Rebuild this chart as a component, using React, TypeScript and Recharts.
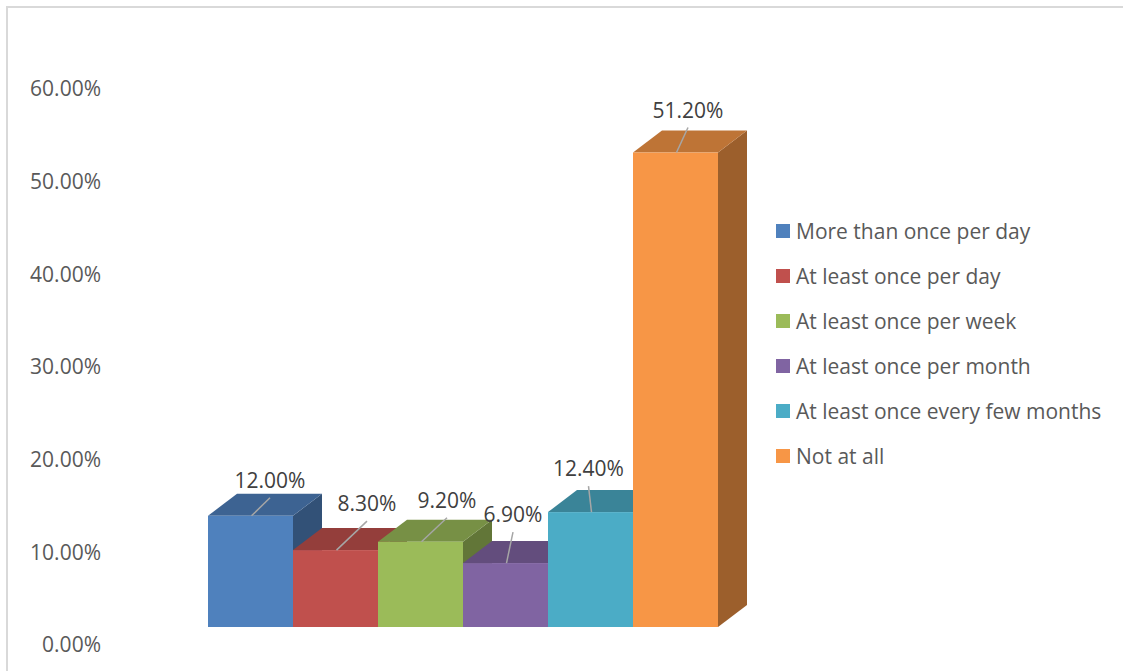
import React from 'react';
import { BarChart, Bar, XAxis, YAxis, Legend } from 'recharts';

const categories = ['Frequency'];
const seriesNames = [
  'More than once per day',
  'At least once per day',
  'At least once per week',
  'At least once per month',
  'At least once every few months',
  'Not at all',
];
const seriesValues = [12.0, 8.3, 9.2, 6.9, 12.4, 51.2];
const yTicks = [0, 10, 20, 30, 40, 50, 60];

const seriesColors = ['#4F81BD', '#C0504D', '#9BBB59', '#8064A2', '#4BACC6', '#F79646'];
// label nudges (style): offset of the data label from the front-top centre of each box
const labelNudge: [number, number][] = [
  [19.5, -36],
  [31.5, -47],
  [26.5, -42],
  [7.5, -49],
  [-2, -44],
  [12.5, -43],
];

const data = categories.map((c) => {
  const row: Record<string, any> = { name: c };
  seriesValues.forEach((v, i) => {
    row['s' + i] = v;
  });
  return row;
});

const DX = 29;
const DY = 22;
const LIFT = 18;
const FONT = "'Open Sans', sans-serif";

function shade(hex: string, f: number) {
  const n = parseInt(hex.slice(1), 16);
  const r = Math.round(((n >> 16) & 255) * f);
  const g = Math.round(((n >> 8) & 255) * f);
  const b = Math.round((n & 255) * f);
  return `rgb(${r},${g},${b})`;
}

const makeShape = (i: number) => (props: any) => {
  const { x, y, width, height } = props;
  const fill = seriesColors[i];
  const top = y - LIFT;
  const bottom = y + height - LIFT;
  const right = x + width;
  const cx = x + width / 2;
  const lx = cx + labelNudge[i][0];
  const ly = top + labelNudge[i][1];
  return (
    <g>
      <polygon
        points={`${right},${top} ${right + DX},${top - DY} ${right + DX},${bottom - DY} ${right},${bottom}`}
        fill={shade(fill, 0.63)}
      />
      <polygon
        points={`${x},${top} ${right},${top} ${right + DX},${top - DY} ${x + DX},${top - DY}`}
        fill={shade(fill, 0.77)}
      />
      <rect x={x} y={top} width={width} height={height} fill={fill} />
      <line x1={cx + 1} y1={top} x2={lx} y2={ly + 18} stroke="#a6a6a6" strokeWidth={1.5} />
      <text
        x={lx}
        y={ly}
        textAnchor="middle"
        dominantBaseline="central"
        fontFamily={FONT}
        fontSize={21}
        fill="#404040"
      >
        {seriesValues[i].toFixed(2) + '%'}
      </text>
    </g>
  );
};

const renderLegend = () => (
  <div style={{ width: 347, fontFamily: FONT, fontSize: 21, color: '#595959' }}>
    {seriesNames.map((n, i) => (
      <div key={n} style={{ height: 45, display: 'flex', alignItems: 'center', whiteSpace: 'nowrap' }}>
        <span
          style={{
            display: 'inline-block',
            flex: '0 0 14px',
            width: 14,
            height: 14,
            background: seriesColors[i],
            marginRight: 6,
          }}
        />
        <span>{n}</span>
      </div>
    ))}
  </div>
);

export default function App() {
  return (
    <div style={{ position: 'absolute', left: 0, top: 0, width: 1123, height: 671, overflow: 'hidden', background: '#fff' }}>
      <div
        style={{
          position: 'absolute',
          left: 6,
          top: 6,
          width: 1300,
          height: 900,
          borderTop: '2px solid #d9d9d9',
          borderLeft: '2px solid #d9d9d9',
        }}
      />
      <div style={{ position: 'absolute', left: 0, top: 0 }}>
        <BarChart
          width={1123}
          height={671}
          data={data}
          margin={{ top: 89, right: 308, bottom: 26, left: 0 }}
          barCategoryGap={98}
          barGap={0}
        >
          <XAxis dataKey="name" hide />
          <YAxis
            domain={[0, 60]}
            ticks={yTicks}
            interval={0}
            tickFormatter={(v: number) => v.toFixed(2) + '%'}
            axisLine={false}
            tickLine={false}
            tickSize={0}
            tickMargin={9}
            width={110}
            tick={{ fill: '#595959', fontSize: 21, fontFamily: FONT }}
          />
          <Legend
            content={renderLegend}
            wrapperStyle={{ position: 'absolute', left: 776, top: 208, width: 0, height: 0, overflow: 'visible' }}
          />
          {seriesNames.map((n, i) => (
            <Bar
              key={n}
              dataKey={'s' + i}
              name={n}
              fill={seriesColors[i]}
              isAnimationActive={false}
              shape={makeShape(i)}
            />
          ))}
        </BarChart>
      </div>
    </div>
  );
}
